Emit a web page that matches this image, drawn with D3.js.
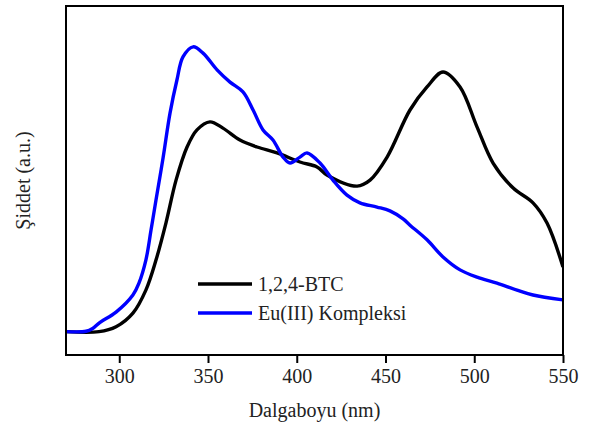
<!DOCTYPE html>
<html>
<head>
<meta charset="utf-8">
<script src="https://cdn.jsdelivr.net/npm/d3@7"></script>
<style>
  body { margin: 0; background: #fff; }
  svg { display: block; font-family: "Liberation Serif", "Times New Roman", serif; }
</style>
</head>
<body>
<div id="chart"></div>
<script>
// wavelength (nm) and intensity (a.u.)
var btcX = [270, 288.6, 298.2, 307.7, 315, 320.7, 326.3, 332, 338.2, 343.8, 351.1, 358.4, 368, 377.6, 388.9, 401.8, 411.4, 417, 434, 441.3, 450.9, 463.8, 473.4, 482.4, 492, 501.6, 510.6, 521.8, 533.1, 541, 550];
var btcY = [6.7, 6.7, 8.1, 12.0, 18.6, 27.2, 37.8, 50.1, 59.6, 64.5, 66.8, 65.0, 61.6, 59.6, 57.9, 55.3, 53.9, 51.6, 48.4, 50.1, 56.7, 70.2, 76.8, 81.1, 76.8, 65.3, 55.0, 47.9, 43.6, 37.8, 25.2];

var euX = [270, 281.3, 285, 289, 298.2, 307.7, 311.1, 315, 317.9, 320.7, 324.7, 328.6, 332.5, 335.9, 341.6, 347.2, 355.1, 362.4, 369.7, 375.4, 381, 386.6, 392.3, 396.2, 401.8, 405.8, 413.1, 420.4, 428.3, 435.6, 445.2, 452.5, 459.9, 463.8, 473.4, 482.4, 492, 501.6, 512.8, 524.1, 533.1, 550];
var euY = [6.7, 6.8, 7.6, 9.3, 12.3, 17.2, 20.6, 27.2, 35.8, 44.4, 56.5, 69.3, 78.8, 85.4, 88.3, 86.5, 81.7, 78.2, 75.4, 70.2, 64.5, 61.6, 56.7, 55.0, 56.7, 57.9, 55.0, 50.1, 45.8, 43.6, 42.4, 41.3, 39.0, 37.2, 33.0, 28.1, 24.4, 22.3, 20.6, 18.6, 17.2, 15.8];

var xTicks = [300, 350, 400, 450, 500, 550];
var seriesNames = ["1,2,4-BTC", "Eu(III) Kompleksi"];
var seriesColors = ["#000000", "#0000ff"];

var width = 590, height = 426;
var margin = {top: 6, right: 27, bottom: 71, left: 66};

var svg = d3.select("#chart")
    .append("svg")
    .attr("width", width)
    .attr("height", height)

var x = d3.scaleLinear()
    .domain([270, 550])
    .range([margin.left, width - margin.right]);

var y = d3.scaleLinear()
    .domain([0, 100])
    .range([height - margin.bottom, margin.top]);

var series = [
    {name: seriesNames[0], color: seriesColors[0], pts: d3.zip(btcX, btcY)},
    {name: seriesNames[1], color: seriesColors[1], pts: d3.zip(euX, euY)}
];

var line = d3.line()
    .x(function(d) { return x(d[0]); })
    .y(function(d) { return y(d[1]); })
    .curve(d3.curveCatmullRom.alpha(0.5));

svg.append("defs").append("clipPath")
    .attr("id", "clip")
    .append("rect")
    .attr("x", margin.left)
    .attr("y", margin.top)
    .attr("width", width - margin.left - margin.right)
    .attr("height", height - margin.top - margin.bottom);

svg.append("g")
    .attr("clip-path", "url(#clip)")
    .selectAll("path")
    .data(series)
    .enter()
    .append("path")
    .attr("d", function(d) { return line(d.pts); })
    .attr("fill", "none")
    .attr("stroke", function(d) { return d.color; })
    .attr("stroke-width", 3.4)
    .attr("stroke-linejoin", "round");

// frame
svg.append("rect")
    .attr("x", margin.left)
    .attr("y", margin.top)
    .attr("width", width - margin.left - margin.right)
    .attr("height", height - margin.top - margin.bottom)
    .attr("fill", "none")
    .attr("stroke", "#000")
    .attr("stroke-width", 2);

// bottom axis
var xAxis = svg.append("g")
    .attr("transform", "translate(0," + (height - margin.bottom) + ")")
    .call(d3.axisBottom(x).tickValues(xTicks).tickSize(8).tickPadding(6).tickFormat(d3.format("d")));

xAxis.select(".domain").remove();
xAxis.selectAll("line").attr("stroke-width", 2);
xAxis.selectAll("text")
    .attr("font-family", "Liberation Serif")
    .attr("font-size", 20)
    .attr("fill", "#222");

svg.append("text")
    .attr("x", (margin.left + width - margin.right) / 2)
    .attr("y", 417)
    .attr("text-anchor", "middle")
    .attr("font-size", 20)
    .attr("fill", "#222")
    .text("Dalgaboyu (nm)");

svg.append("text")
    .attr("transform", "translate(30," + ((margin.top + height - margin.bottom) / 2) + ") rotate(-90)")
    .attr("text-anchor", "middle")
    .attr("font-size", 20)
    .attr("fill", "#222")
    .text("Şiddet (a.u.)");

// legend
var legend = svg.append("g")
    .selectAll("g")
    .data(series)
    .enter()
    .append("g")
    .attr("transform", function(d, i) { return "translate(198," + (284 + i * 29) + ")"; });

legend.append("line")
    .attr("x1", 0)
    .attr("x2", 54)
    .attr("stroke", function(d) { return d.color; })
    .attr("stroke-width", 3.4);

legend.append("text")
    .attr("x", 60)
    .attr("y", 7)
    .attr("font-size", 20)
    .attr("fill", "#222")
    .text(function(d) { return d.name; });
</script>
</body>
</html>
